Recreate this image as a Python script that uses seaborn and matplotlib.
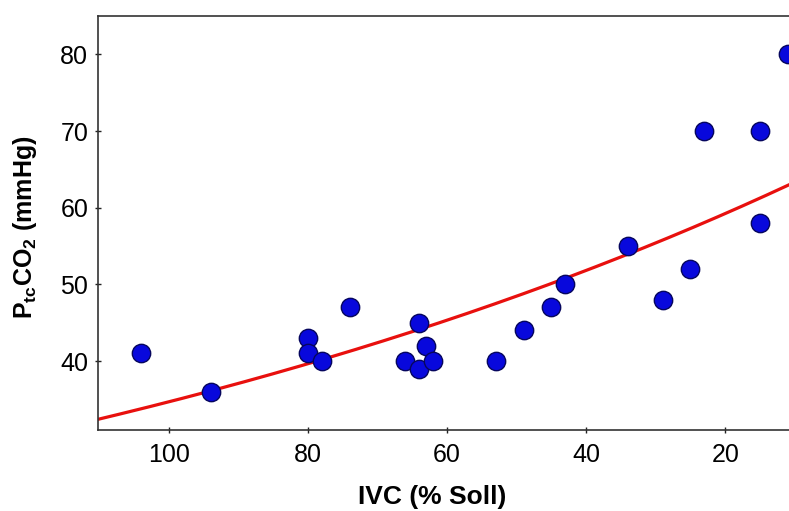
import numpy as np
import pandas as pd
import matplotlib
matplotlib.use("Agg")
import matplotlib.pyplot as plt
import seaborn as sns

ivc = [104, 94, 80, 80, 78, 74, 66, 64, 64, 63, 62, 53, 49, 45, 43, 34, 29, 25, 23, 15, 15, 11]
ptco2 = [41, 36, 43, 41, 40, 47, 40, 45, 39, 42, 40, 40, 44, 47, 50, 55, 48, 52, 70, 70, 58, 80]
x_ticks = [100, 80, 60, 40, 20]
y_ticks = [40, 50, 60, 70, 80]

df = pd.DataFrame({"ivc": ivc, "ptco2": ptco2})

# exponential fit y = a * exp(b x) via log-linear least squares
b, loga = np.polyfit(df["ivc"], np.log(df["ptco2"]), 1)
xfit = np.linspace(110.2, 10.6, 200)
fit = pd.DataFrame({"ivc": xfit, "ptco2": np.exp(loga) * np.exp(b * xfit)})

sns.set_theme(style="white")
plt.rcParams["font.family"] = ["Liberation Sans", "DejaVu Sans"]
plt.rcParams["mathtext.fontset"] = "custom"
plt.rcParams["mathtext.rm"] = "Liberation Sans"
plt.rcParams["mathtext.bf"] = "Liberation Sans:bold"
plt.rcParams["text.color"] = "black"
plt.rcParams["axes.labelcolor"] = "black"
plt.rcParams["xtick.color"] = "black"
plt.rcParams["ytick.color"] = "black"

fig = plt.figure(figsize=(7.89, 5.11), dpi=100)
ax = fig.add_axes([98 / 789, 1 - 430 / 511, 1 - 98 / 789 + 0.002, (430 - 16) / 511])

sns.lineplot(data=fit, x="ivc", y="ptco2", ax=ax, color="#e8100e", lw=2.3, zorder=2)
sns.scatterplot(data=df, x="ivc", y="ptco2", ax=ax, s=175, color="#0808dc",
                edgecolor="#06065e", linewidth=1.0, zorder=3, clip_on=False)

ax.set_xlim(110.2, 10.6)
ax.set_ylim(31, 85)
ax.set_xticks(x_ticks)
ax.set_yticks(y_ticks)
ax.tick_params(axis="both", labelsize=18, direction="inout", length=4, width=1,
               color="#222222", bottom=True, left=True, labelcolor="black")
ax.tick_params(axis="x", pad=7)
ax.tick_params(axis="y", pad=5)
for s in ["left", "bottom", "top"]:
    ax.spines[s].set_color("#333333")
    ax.spines[s].set_linewidth(1.2)
ax.spines["right"].set_visible(False)

ax.set_xlabel("IVC (% Soll)", fontsize=19, fontweight="bold", va="center", ha="center")
ax.xaxis.set_label_coords(0.482, -0.162)
ax.set_ylabel(r"$\mathbf{P_{tc}CO_2}$ (mmHg)", fontsize=18, fontweight="bold",
              va="center", ha="center")
ax.yaxis.set_label_coords(-0.106, 0.49)

fig.savefig("out.png", dpi=100)
